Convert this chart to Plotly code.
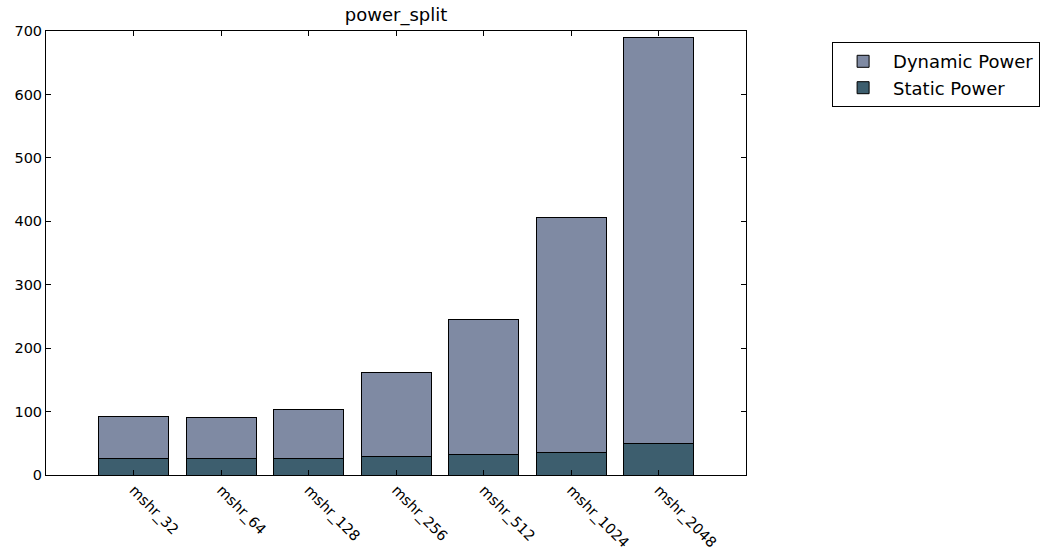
import plotly.graph_objects as go

categories = ["mshr_32", "mshr_64", "mshr_128", "mshr_256", "mshr_512", "mshr_1024", "mshr_2048"]
static_power = [25.3, 26.8, 26.8, 28.4, 31.6, 35.7, 49.4]
dynamic_power = [67.2, 63.7, 76.8, 133.6, 213.6, 370.3, 640.0]

DYN_COLOR = "#7f8aa3"
STA_COLOR = "#3d5e6e"
FONT = "DejaVu Sans"

fig = go.Figure()
fig.add_trace(go.Bar(
    x=categories, y=static_power, name="Static Power",
    marker=dict(color=STA_COLOR, line=dict(color="black", width=1)),
    width=0.8,
))
fig.add_trace(go.Bar(
    x=categories, y=dynamic_power, name="Dynamic Power",
    marker=dict(color=DYN_COLOR, line=dict(color="black", width=1)),
    width=0.8,
))

fig.update_layout(
    barmode="stack",
    width=1045, height=552,
    margin=dict(l=46, r=299, t=31, b=77, autoexpand=False),
    paper_bgcolor="white", plot_bgcolor="white",
    font=dict(family=FONT, size=14, color="black"),
    title=dict(text="power_split", x=(46 + 746) / 2 / 1045, xanchor="center",
               y=1 - 15 / 552, yanchor="middle", font=dict(size=18)),
    legend=dict(
        x=1.123, y=0.975, xanchor="left", yanchor="top",
        traceorder="reversed",
        bordercolor="black", borderwidth=1, bgcolor="white",
        font=dict(size=18, family=FONT),
        itemwidth=50,
    ),
    xaxis=dict(
        type="category", range=[-1.0, 7.0], automargin=False,
        showline=True, linecolor="black", linewidth=1, mirror="allticks",
        ticks="inside", ticklen=5, tickcolor="black",
        tickangle=45, showgrid=False, ticklabelstandoff=0,
        tickfont=dict(size=14.5, family=FONT),
    ),
    yaxis=dict(
        range=[0, 700], dtick=100, automargin=False,
        showline=True, linecolor="black", linewidth=1, mirror="allticks",
        ticks="inside", ticklen=5, tickcolor="black",
        showgrid=False, zeroline=False,
        tickfont=dict(size=14.5, family=FONT),
    ),
)

fig.write_html("out.html")
